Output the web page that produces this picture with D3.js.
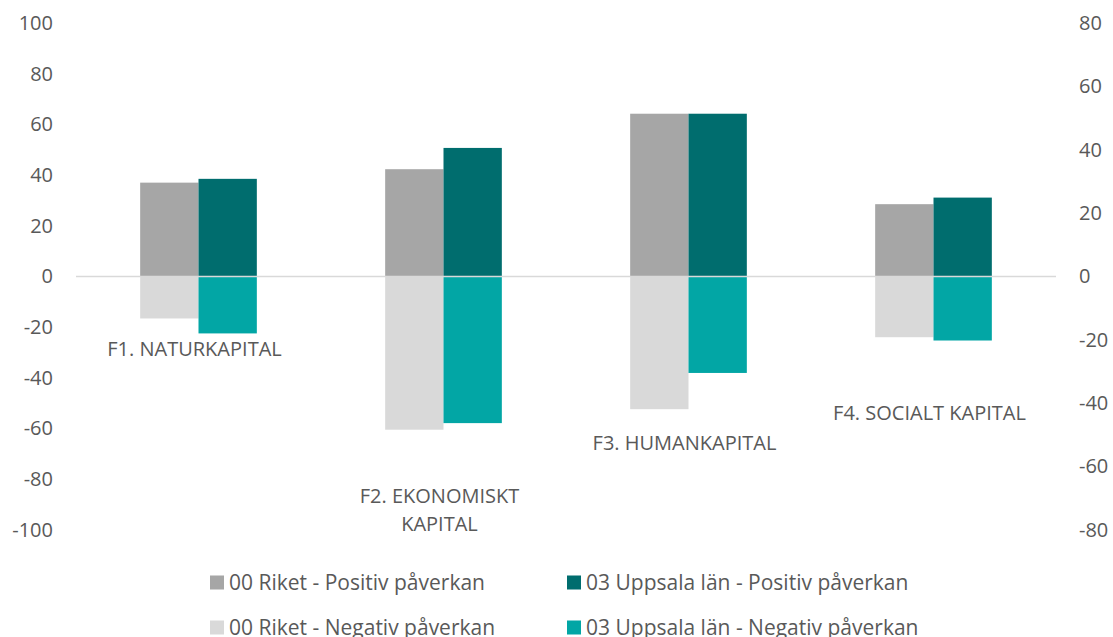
<!DOCTYPE html>
<html>
<head>
<meta charset="utf-8">
<script src="https://cdn.jsdelivr.net/npm/d3@7"></script>
<style>
  html, body { margin: 0; padding: 0; background: #fff; }
  svg text { font-family: "Open Sans", sans-serif; fill: #595959; }
</style>
</head>
<body>
<svg id="chart" width="1113" height="637"></svg>
<script>
// Data (left axis units)
const categories = ["F1. NATURKAPITAL", "F2. EKONOMISKT KAPITAL", "F3. HUMANKAPITAL", "F4. SOCIALT KAPITAL"];
const riketPositiv = [37.0, 42.3, 64.2, 28.5];
const uppsalaPositiv = [38.5, 50.7, 64.2, 31.1];
const riketNegativ = [-16.6, -60.5, -52.4, -24.0];
const uppsalaNegativ = [-22.5, -57.9, -38.1, -25.3];

const leftTicks = [-100, -80, -60, -40, -20, 0, 20, 40, 60, 80, 100];
const rightTicks = [-80, -60, -40, -20, 0, 20, 40, 60, 80];

// category label lines + vertical anchor (left-axis units)
const labelLines = [["F1. NATURKAPITAL"], ["F2. EKONOMISKT", "KAPITAL"], ["F3. HUMANKAPITAL"], ["F4. SOCIALT KAPITAL"]];
const labelAnchor = [-28.7, -86.5, -65.9, -54.0];

const series = [
  { name: "00 Riket - Positiv påverkan", values: riketPositiv, color: "#A6A6A6", slot: 0 },
  { name: "03 Uppsala län - Positiv påverkan", values: uppsalaPositiv, color: "#006D6E", slot: 1 },
  { name: "00 Riket - Negativ påverkan", values: riketNegativ, color: "#D9D9D9", slot: 0 },
  { name: "03 Uppsala län - Negativ påverkan", values: uppsalaNegativ, color: "#02A6A5", slot: 1 }
];

const svg = d3.select('#chart');
const plotLeft = 76, plotRight = 1056;

const x = d3.scaleBand().domain(categories).range([plotLeft, plotRight]).paddingInner(0).paddingOuter(0);
const inner = d3.scaleBand().domain([0, 1]).range([0, x.bandwidth()]).paddingOuter(1.1).paddingInner(0);
const y = d3.scaleLinear().domain([-100, 100]).range([529.8, 23]);
const y2 = d3.scaleLinear().domain([-80, 80]).range([529.8, 23]);

// bars
series.forEach(s => {
  svg.append('g').selectAll('rect')
    .data(s.values.map((v, i) => ({ v, c: categories[i] })))
    .enter().append('rect')
    .attr('x', d => x(d.c) + inner(s.slot))
    .attr('width', inner.bandwidth())
    .attr('y', d => y(Math.max(0, d.v)))
    .attr('height', d => Math.abs(y(d.v) - y(0)))
    .attr('fill', s.color);
});

// zero line
svg.append('line')
  .attr('x1', plotLeft).attr('x2', plotRight)
  .attr('y1', y(0)).attr('y2', y(0))
  .attr('stroke', '#D9D9D9').attr('stroke-width', 1.5);

const fmt = d => String(d); // plain hyphen minus like the reference

// left axis labels
const leftAxis = svg.append('g').attr('transform', `translate(53,0)`)
  .call(d3.axisLeft(y).tickValues(leftTicks).tickFormat(fmt).tickSize(0).tickPadding(0));
leftAxis.select('.domain').remove();
leftAxis.selectAll('text').attr('font-size', 20).style('font-family', '"Open Sans", sans-serif').attr('fill', '#595959');

// right axis labels
const rightAxis = svg.append('g').attr('transform', `translate(1079,0)`)
  .call(d3.axisRight(y2).tickValues(rightTicks).tickFormat(fmt).tickSize(0).tickPadding(0));
rightAxis.select('.domain').remove();
rightAxis.selectAll('text').attr('font-size', 20).style('font-family', '"Open Sans", sans-serif').attr('fill', '#595959');

// category labels
categories.forEach((c, i) => {
  const t = svg.append('text')
    .attr('text-anchor', 'middle')
    .attr('font-size', 20);
  labelLines[i].forEach((line, k) => {
    t.append('tspan')
      .attr('x', x(c) + x.bandwidth() / 2 - 4)
      .attr('y', y(labelAnchor[i]) + k * 28)
      .attr('dy', '0.35em')
      .text(line);
  });
});

// legend
const legendPos = [[210, 582.5], [567, 582.5], [210, 627.5], [567, 627.5]];
series.forEach((s, i) => {
  const g = svg.append('g').attr('transform', `translate(${legendPos[i][0]},${legendPos[i][1]})`);
  g.append('rect').attr('x', 0).attr('y', -7).attr('width', 14).attr('height', 14).attr('fill', s.color);
  g.append('text').attr('x', 19).attr('dy', '0.35em').attr('font-size', 21).text(s.name);
});
</script>
</body>
</html>
